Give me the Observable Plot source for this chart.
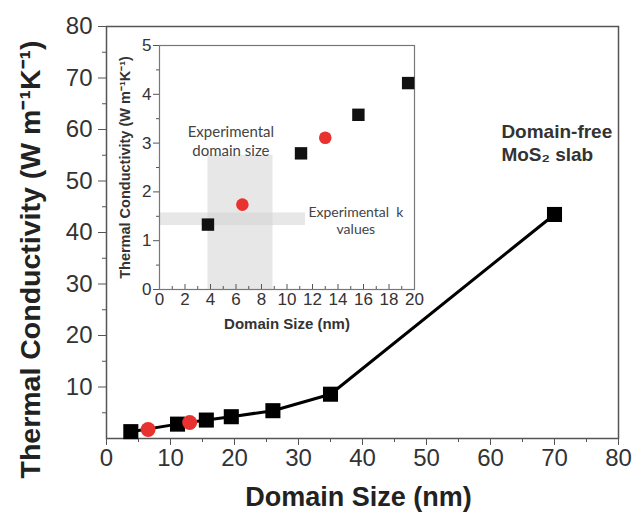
<!DOCTYPE html>
<html>
<head>
<meta charset="utf-8">
<script src="https://cdn.jsdelivr.net/npm/d3@7"></script>
<script src="https://cdn.jsdelivr.net/npm/@observablehq/plot@0.6"></script>
<style>
  html, body { margin: 0; padding: 0; background: #fff; }
  #wrap { position: relative; width: 633px; height: 521px; }
  #inset { position: absolute; left: 100px; top: 30px; }
</style>
</head>
<body>
<div id="wrap"><div id="main"></div><div id="inset"></div></div>
<script>
// ---- data ----
const simDomain = [3.8, 11.1, 15.6, 19.5, 26, 35, 70];      // nm, simulated (black squares)
const simK      = [1.33, 2.79, 3.58, 4.23, 5.4, 8.6, 43.5]; // W m-1 K-1
const expDomain = [6.5, 13];                                 // experimental (red circles)
const expK      = [1.74, 3.11];
const mainXTicks = [0, 10, 20, 30, 40, 50, 60, 70, 80];
const mainYTicks = [10, 20, 30, 40, 50, 60, 70, 80];
const insetXTicks = [0, 2, 4, 6, 8, 10, 12, 14, 16, 18, 20];
const insetYTicks = [0, 1, 2, 3, 4, 5];
const domainBand = [{x1: 3.8, x2: 8.9, y1: 0, y2: 2.75}];     // experimental domain size
const kBand      = [{x1: 0, x2: 11.45, y1: 1.31, y2: 1.57}];  // experimental k values

const sim = simDomain.map((d, i) => ({d, k: simK[i]}));
const exp = expDomain.map((d, i) => ({d, k: expK[i]}));
const simInset = sim.filter(p => p.d <= 20);

const mainXMinor = d3.range(5, 80, 10);
const mainYMinor = d3.range(5, 80, 10);
const insetXMinor = d3.range(1, 20, 2);
const insetYMinor = d3.range(0.5, 5, 1);

const RED = "#e8322f";
const AX = "#555";
const sans = "'Liberation Sans', Arial, sans-serif";
const intFmt = d3.format("d");

const main = Plot.plot({
  width: 633, height: 521,
  marginLeft: 106, marginRight: 15, marginTop: 26, marginBottom: 83,
  style: {fontFamily: sans, fontSize: "24px", color: "#333", background: "transparent", overflow: "visible"},
  x: {domain: [0, 80]},
  y: {domain: [0, 80]},
  marks: [
    Plot.axisX({ticks: mainXTicks, tickSize: 7, tickPadding: 3, tickFormat: intFmt, label: null, stroke: AX}),
    Plot.axisX({ticks: mainXMinor, tickSize: 4, tickFormat: () => "", label: null, stroke: AX}),
    Plot.axisY({ticks: mainYTicks, tickSize: 8, tickPadding: 6, tickFormat: intFmt, label: null, stroke: AX}),
    Plot.axisY({ticks: mainYMinor, tickSize: 4, tickFormat: () => "", label: null, stroke: AX}),
    Plot.frame({stroke: AX, strokeWidth: 1.5}),
    Plot.line(sim, {x: "d", y: "k", stroke: "#000", strokeWidth: 3}),
    Plot.dot(sim, {x: "d", y: "k", symbol: "square", r: 8.5, fill: "#000", stroke: null}),
    Plot.dot(exp, {x: "d", y: "k", r: 7.5, fill: RED, stroke: null}),
    Plot.text(["Domain-free\nMoS\u2082 slab"], {x: 61.7, y: 57.6, textAnchor: "start", lineHeight: 1.2,
      fontSize: 19, fontWeight: "bold", fill: "#333"}),
    Plot.text(["Thermal Conductivity (W m\u207B\u00B9K\u207B\u00B9)"], {frameAnchor: "left", dx: -76, dy: 27, rotate: -90,
      textAnchor: "middle", fontSize: 28.5, fontWeight: "bold", fill: "#222"}),
    Plot.text(["Domain Size (nm)"], {frameAnchor: "bottom", dy: 67, dx: -4, fontSize: 27, fontWeight: "bold", fill: "#222"})
  ]
});
document.getElementById("main").appendChild(main);

const inset = Plot.plot({
  width: 330, height: 310,
  marginLeft: 59, marginRight: 16, marginTop: 15, marginBottom: 51,
  style: {fontFamily: sans, fontSize: "17px", color: "#333", background: "transparent", overflow: "visible"},
  x: {domain: [0, 20]},
  y: {domain: [0, 5]},
  marks: [
    Plot.rect(domainBand, {x1: "x1", x2: "x2", y1: "y1", y2: "y2", fill: "#d4d4d4", fillOpacity: 0.55}),
    Plot.rect(kBand, {x1: "x1", x2: "x2", y1: "y1", y2: "y2", fill: "#d4d4d4", fillOpacity: 0.55}),
    Plot.axisX({ticks: insetXTicks, tickSize: -5, tickPadding: 8, tickFormat: intFmt, label: null, stroke: AX}),
    Plot.axisX({ticks: insetXMinor, tickSize: -3, tickFormat: () => "", label: null, stroke: AX}),
    Plot.axisY({ticks: insetYTicks, tickSize: 6, tickPadding: 2, tickFormat: intFmt, label: null, stroke: AX}),
    Plot.axisY({ticks: insetYMinor, tickSize: 3, tickFormat: () => "", label: null, stroke: AX}),
    Plot.frame({stroke: "#777", strokeWidth: 1.2}),
    Plot.dot(simInset, {x: "d", y: "k", symbol: "square", r: 7, fill: "#111", stroke: null}),
    Plot.dot(exp, {x: "d", y: "k", r: 6.3, fill: RED, stroke: null}),
    Plot.text(["Experimental\ndomain size"], {x: 5.6, y: 3.06, lineHeight: 1.25, fontSize: 15,
      fontFamily: "Lato, 'Open Sans', sans-serif", fill: "#444"}),
    Plot.text(["Experimental  k\nvalues"], {x: 15.4, y: 1.42, lineHeight: 1.2, fontSize: 14,
      fontFamily: "Lato, 'Open Sans', sans-serif", fill: "#444"}),
    Plot.text(["Thermal Conductivity (W m\u207B\u00B9K\u207B\u00B9)"], {frameAnchor: "left", dx: -34, rotate: -90,
      textAnchor: "middle", fontSize: 14.5, fontWeight: "bold", fill: "#333"}),
    Plot.text(["Domain Size (nm)"], {frameAnchor: "bottom", dy: 39, fontSize: 15, fontWeight: "bold", fill: "#333"})
  ]
});
document.getElementById("inset").appendChild(inset);
</script>
</body>
</html>
